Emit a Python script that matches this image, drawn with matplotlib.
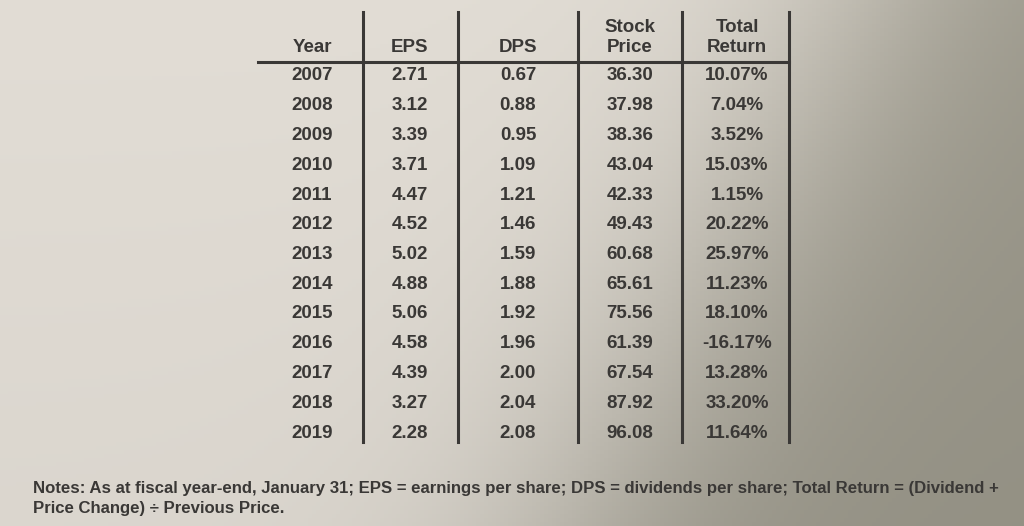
import numpy as np
import matplotlib.pyplot as plt

years = [2007, 2008, 2009, 2010, 2011, 2012, 2013, 2014, 2015, 2016, 2017, 2018, 2019]
eps = [2.71, 3.12, 3.39, 3.71, 4.47, 4.52, 5.02, 4.88, 5.06, 4.58, 4.39, 3.27, 2.28]
dps = [0.67, 0.88, 0.95, 1.09, 1.21, 1.46, 1.59, 1.88, 1.92, 1.96, 2.00, 2.04, 2.08]
price = [36.30, 37.98, 38.36, 43.04, 42.33, 49.43, 60.68, 65.61, 75.56, 61.39, 67.54, 87.92, 96.08]
total_return = [10.07, 7.04, 3.52, 15.03, 1.15, 20.22, 25.97, 11.23, 18.10, -16.17, 13.28, 33.20, 11.64]

headers = ['Year', 'EPS', 'DPS', 'Stock\nPrice', 'Total\nReturn']
note = ("Notes: As at fiscal year-end, January 31; EPS = earnings per share; DPS = dividends per share; "
        "Total Return = (Dividend +\nPrice Change) \u00f7 Previous Price.")

plt.rcParams['font.family'] = ['Liberation Sans', 'DejaVu Sans']
ink = '#3a3836'

fig = plt.figure(figsize=(10.24, 5.26), dpi=100)
ax = fig.add_axes([0, 0, 1, 1])
ax.set_xlim(0, 1024)
ax.set_ylim(526, 0)
ax.axis('off')

# paper background: light on the left, shadowed to the right
px, py = np.meshgrid(np.arange(0, 1024, 4), np.arange(0, 526, 4))
edge = 860 - 0.55 * py
t = 1 / (1 + np.exp(-(px - edge) / 90))
light = np.array([226, 221, 213]) / 255
dark = np.array([152, 149, 136]) / 255
bg = light * (1 - t[..., None]) + dark * t[..., None]
bg *= (1 - 0.03 * py / 526)[..., None]
ax.imshow(bg, extent=[0, 1024, 526, 0], aspect='auto', zorder=0)

col_x = [312, 410, 518, 630, 737]
vlines = [363, 458, 578, 682, 789]
row0, row_h = 76, 29.75

for x in vlines:
    ax.plot([x, x], [12, 442], color=ink, lw=2.2)
ax.plot([258, 789], [62, 62], color=ink, lw=2.2)

for x, h in zip(col_x, headers):
    ax.text(x, 56, h, ha='center', va='bottom', fontsize=13.5, fontweight='bold',
            color=ink, linespacing=1.2)

for i, yr in enumerate(years):
    y = row0 + i * row_h
    cells = [str(yr), f'{eps[i]:.2f}', f'{dps[i]:.2f}', f'{price[i]:.2f}', f'{total_return[i]:.2f}%']
    for x, s in zip(col_x, cells):
        ax.text(x, y, s, ha='center', va='center', fontsize=13.5, fontweight='bold', color=ink)

ax.text(33, 481, note, ha='left', va='top', fontsize=12.05, fontweight='bold', color=ink,
        linespacing=1.45)

plt.savefig('out.png', dpi=100)
